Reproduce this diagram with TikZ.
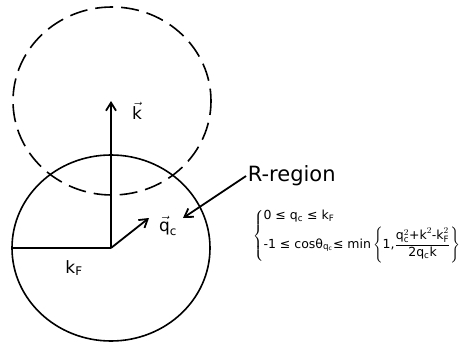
\documentclass[tikz,border=0pt]{standalone}
\usepackage{amsmath}
\usepackage{fontspec}
\setmainfont{DejaVu Sans}
\usetikzlibrary{arrows.meta}
\begin{document}
\begin{tikzpicture}[x=1pt, y=-1pt,
    line width=1.8pt,
    vec/.style={-{Straight Barb[length=8pt, width=10pt, line width=1.8pt]}},
    sphere/.style={draw, line width=1.6pt},
    lbl/.style={inner sep=1pt, font=\fontsize{17}{19}\selectfont},
    cond/.style={inner sep=1pt, align=left, font=\fontsize{12.5}{15}\selectfont}]
    \useasboundingbox (0,0) rectangle (461,345);
    % Fermi sphere and the shifted one
    \draw[sphere] (111,248) ellipse [x radius=99, y radius=93];
    \draw[sphere, dash pattern=on 18pt off 8pt, dash phase=4pt] (112,101) ellipse [x radius=99, y radius=94];
    \coordinate (o) at (111,248);
    \coordinate (kt) at (111,101);
    \coordinate (l) at (12,248);
    \coordinate (qt) at (149,218);
    \coordinate (rt) at (183,218);
    \draw[vec] (o) -- (kt);
    \draw (l) -- (o);
    \draw[vec] (o) -- (qt);
    \node[lbl] (k)  at (137,111) {$\vec{\text{k}}$};
    \node[lbl] (q)  at (168,226) {$\vec{\text{q}}_\text{c}$};
    \node[lbl] (kf) at (74,268)  {k\textsubscript{F}};
    \node[lbl, anchor=west, font=\fontsize{21}{24}\selectfont] (rreg) at (246,176) {R-region};
    \draw[vec] (rreg.west) -- (rt);
    \node[cond, anchor=west] (cnd) at (251,236)
        {$\left\{\begin{array}{@{}l@{}}
          \text{0 ≤ q\textsubscript{c} ≤ k\textsubscript{F}}\\[3pt]
          \text{-1 ≤ cosθ\textsubscript{q\textsubscript{c}}≤ min}
          \left\{\text{1,}\dfrac{\text{q}_\text{c}^2\text{+k}^2\text{-k}_\text{F}^2}{\text{2q\textsubscript{c}k}}\right\}
          \end{array}\right.$};
\end{tikzpicture}
\end{document}
